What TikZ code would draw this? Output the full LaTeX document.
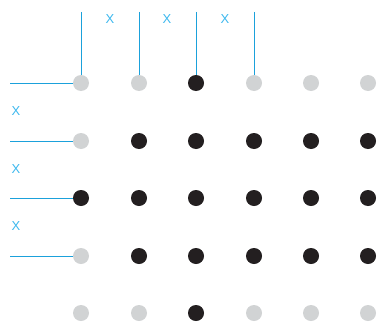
\documentclass[tikz,border=0pt]{standalone}
\usepackage{fontspec}
\setmainfont{Liberation Sans}
\definecolor{lineblue}{HTML}{1BA1DB}
\definecolor{xblue}{HTML}{3DB8EE}
\definecolor{dotgray}{HTML}{D1D3D4}
\definecolor{dotblack}{HTML}{231F20}
\begin{document}
\begin{tikzpicture}[x=1pt,y=-1pt,
  dotg/.style={circle,fill=dotgray,inner sep=0pt,minimum size=16pt},
  dotb/.style={circle,fill=dotblack,inner sep=0pt,minimum size=16pt},
  conn/.style={draw=lineblue,line width=1pt},
  xlab/.style={text=xblue,font=\fontsize{13}{13}\selectfont,inner sep=0pt}]
\useasboundingbox (0,0) rectangle (379,321);
% gray dots everywhere first
\foreach \r/\y in {1/83,2/141,3/198,4/256,5/313}{
  \foreach \c/\x in {1/81,2/139,3/196,4/254,5/311,6/368}{
    \node[dotg] (d\r\c) at (\x,\y) {};
  }
}
% black dots on top
\foreach \r/\c in {1/3,2/2,2/3,2/4,2/5,2/6,3/1,3/2,3/3,3/4,3/5,3/6,4/2,4/3,4/4,4/5,4/6,5/3}{
  \node[dotb] (b\r\c) at (d\r\c) {};
}
% top coordinates
\coordinate (t1) at (81,12);
\coordinate (t2) at (139,12);
\coordinate (t3) at (196,12);
\coordinate (t4) at (254,12);
\draw[conn] (t1) -- (d11.north);
\draw[conn] (t2) -- (d12.north);
\draw[conn] (t3) -- (d13.north);
\draw[conn] (t4) -- (d14.north);
% left coordinates
\coordinate (l1) at (10,83);
\coordinate (l2) at (10,141);
\coordinate (l3) at (10,198);
\coordinate (l4) at (10,256);
\draw[conn] (l1) -- (d11.west);
\draw[conn] (l2) -- (d21.west);
\draw[conn] (l3) -- (d31.west);
\draw[conn] (l4) -- (d41.west);
% labels
\node[xlab] (xt1) at (110,19) {X};
\node[xlab] (xt2) at (167,19) {X};
\node[xlab] (xt3) at (225,19) {X};
\node[xlab] (xl1) at (16,111) {X};
\node[xlab] (xl2) at (16,169) {X};
\node[xlab] (xl3) at (16,226) {X};
\end{tikzpicture}
\end{document}
